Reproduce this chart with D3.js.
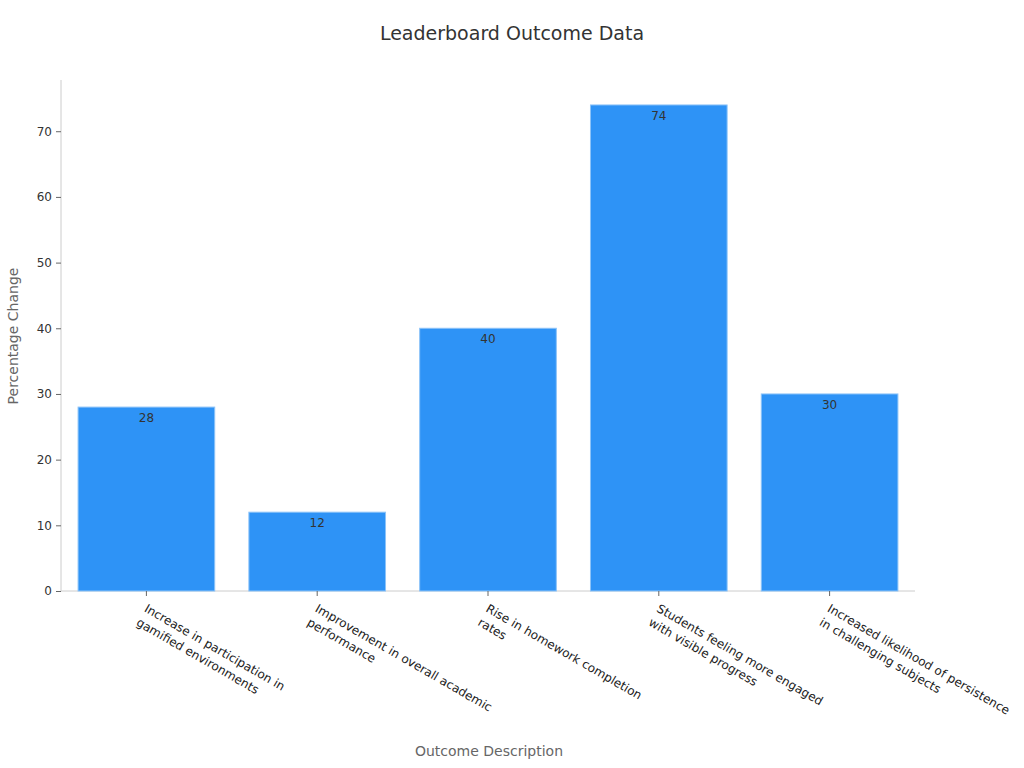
<!DOCTYPE html>
<html><head><meta charset="utf-8">
<script src="https://cdn.jsdelivr.net/npm/d3@7"></script>
<style>body{margin:0;background:#fff}text{font-family:"DejaVu Sans",sans-serif}</style>
</head><body><svg id="c" width="1024" height="768"></svg>
<script>
const categories = [
  ["Increase in participation in","gamified environments"],
  ["Improvement in overall academic","performance"],
  ["Rise in homework completion","rates"],
  ["Students feeling more engaged","with visible progress"],
  ["Increased likelihood of persistence","in challenging subjects"]
];
const values = [28, 12, 40, 74, 30];
const yTicks = [0,10,20,30,40,50,60,70];

const svg = d3.select("#c");
const m = {l:61, r:915, t:80, b:591};
const x = d3.scaleBand().domain(d3.range(values.length)).range([m.l,m.r]).paddingInner(0.2).paddingOuter(0.1);
const y = d3.scaleLinear().domain([0,77.8]).range([m.b,m.t]);

svg.append("text").attr("x",512).attr("y",40).attr("text-anchor","middle")
  .attr("font-size",19).attr("fill","#333").text("Leaderboard Outcome Data");

const ya = svg.append("g").attr("transform",`translate(${m.l},0)`)
  .call(d3.axisLeft(y).tickValues(yTicks).tickSize(5).tickPadding(4));
ya.select(".domain").attr("stroke","#ccc").attr("d",`M0,${m.t}V${m.b}`);
ya.selectAll(".tick line").attr("stroke","#666");
ya.selectAll(".tick text").attr("font-size",12).attr("fill","#333").attr("font-family","DejaVu Sans");

svg.append("line").attr("x1",m.l).attr("x2",m.r).attr("y1",m.b).attr("y2",m.b).attr("stroke","#ccc");

svg.selectAll("rect.bar").data(values).join("rect").attr("class","bar")
  .attr("x",(d,i)=>x(i)).attr("width",x.bandwidth())
  .attr("y",d=>y(d)).attr("height",d=>y(0)-y(d))
  .attr("fill","#2e93f6").attr("stroke","#8cc3f8").attr("stroke-width",1);

svg.selectAll("text.val").data(values).join("text").attr("class","val")
  .attr("x",(d,i)=>x(i)+x.bandwidth()/2).attr("y",d=>y(d)+15)
  .attr("text-anchor","middle").attr("font-size",12).attr("fill","#333").text(d=>d);

const xt = svg.selectAll("g.xt").data(categories).join("g").attr("class","xt")
  .attr("transform",(d,i)=>`translate(${x(i)+x.bandwidth()/2},${m.b})`);
xt.append("line").attr("y2",5).attr("stroke","#666");
xt.append("text").attr("transform","translate(-3,20) rotate(30)").attr("font-size",12).attr("fill","#222")
  .selectAll("tspan").data(d=>d).join("tspan").attr("x",0).attr("dy",(d,i)=>i?16:0).text(d=>d);

svg.append("text").attr("x",489).attr("y",756).attr("text-anchor","middle")
  .attr("font-size",14).attr("fill","#666").text("Outcome Description");
svg.append("text").attr("transform","translate(18,336) rotate(-90)").attr("text-anchor","middle")
  .attr("font-size",14).attr("fill","#666").text("Percentage Change");
</script></body></html>
